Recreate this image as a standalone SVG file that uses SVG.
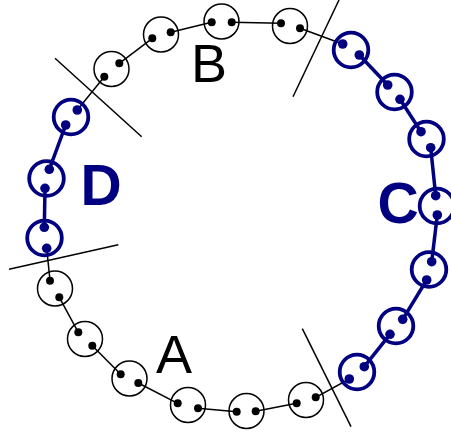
<svg xmlns="http://www.w3.org/2000/svg" width="451" height="436" viewBox="0 0 451 436">
<style>
.bk{fill:none;stroke:#000;stroke-width:1.5}
.bl{fill:none;stroke:#000080;stroke-width:3.8}
.dk{fill:#000}
.db{fill:#000080}
.cb{stroke:#000;stroke-width:1.5;fill:none}
.cl{stroke:#000080;stroke-width:3.5;fill:none}
.sep{stroke:#000;stroke-width:1.5}
.lab{font-family:"Liberation Sans",Arial,sans-serif;font-size:54px;fill:#000;text-anchor:middle}
.labb{font-family:"Liberation Sans",Arial,sans-serif;font-size:57px;font-weight:bold;fill:#000080;text-anchor:middle}
</style>
<rect width="451" height="436" fill="#fff"/>
<g id="connectors">
<line class="cb" x1="59.3" y1="297.3" x2="78.3" y2="332.3"/>
<line class="cb" x1="92.3" y1="345.7" x2="120.7" y2="374.3"/>
<line class="cb" x1="138.3" y1="383" x2="177.7" y2="403.3"/>
<line class="cb" x1="198" y1="408.3" x2="236.7" y2="411.7"/>
<line class="cb" x1="255.7" y1="411.3" x2="296.7" y2="403.3"/>
<line class="cb" x1="315.7" y1="397.3" x2="349.3" y2="379"/>
<line class="cl" x1="364.3" y1="366.7" x2="390" y2="334.3"/>
<line class="cl" x1="402.7" y1="319.3" x2="426.7" y2="280"/>
<line class="cl" x1="431.7" y1="261.7" x2="437.3" y2="215"/>
<line class="cl" x1="435.7" y1="195.7" x2="430.7" y2="147.7"/>
<line class="cl" x1="421" y1="131.7" x2="400" y2="99.3"/>
<line class="cl" x1="387.7" y1="85" x2="359.3" y2="55"/>
<line class="cb" x1="342.7" y1="44" x2="300" y2="28.3"/>
<line class="cb" x1="281" y1="23.3" x2="231.7" y2="22.3"/>
<line class="cb" x1="211.7" y1="22.3" x2="170.7" y2="32.3"/>
<line class="cb" x1="152.3" y1="38.3" x2="119.3" y2="63.3"/>
<line class="cb" x1="104.3" y1="76.7" x2="77.3" y2="110"/>
<line class="cl" x1="65.7" y1="125" x2="49.3" y2="169.3"/>
<line class="cl" x1="45" y1="188.3" x2="44.3" y2="227.3"/>
<line class="cb" x1="46.7" y1="248.3" x2="50" y2="280.7"/>
</g>
<g id="separators">
<line class="sep" x1="339" y1="0" x2="293" y2="96.7"/>
<line class="sep" x1="55" y1="58.3" x2="141.7" y2="136.7"/>
<line class="sep" x1="9" y1="269.3" x2="118.3" y2="244.7"/>
<line class="sep" x1="302.3" y1="328.7" x2="351" y2="426.7"/>
</g>
<g id="bead1"><circle class="bk" cx="55" cy="288.5" r="17.5"/><circle class="dk" cx="50" cy="280.7" r="4"/><circle class="dk" cx="59.3" cy="297.3" r="4"/></g>
<g id="bead2"><circle class="bk" cx="85" cy="339" r="17.5"/><circle class="dk" cx="78.3" cy="332.3" r="4"/><circle class="dk" cx="92.3" cy="345.7" r="4"/></g>
<g id="bead3"><circle class="bk" cx="129.5" cy="378.5" r="17.5"/><circle class="dk" cx="120.7" cy="374.3" r="4"/><circle class="dk" cx="138.3" cy="383" r="4"/></g>
<g id="bead4"><circle class="bk" cx="188" cy="405" r="17.5"/><circle class="dk" cx="177.7" cy="403.3" r="4"/><circle class="dk" cx="198" cy="408.3" r="4"/></g>
<g id="bead5"><circle class="bk" cx="246.5" cy="411" r="17.5"/><circle class="dk" cx="236.7" cy="411.7" r="4"/><circle class="dk" cx="255.7" cy="411.3" r="4"/></g>
<g id="bead6"><circle class="bk" cx="306" cy="400" r="17.5"/><circle class="dk" cx="296.7" cy="403.3" r="4"/><circle class="dk" cx="315.7" cy="397.3" r="4"/></g>
<g id="bead7"><circle class="bl" cx="357" cy="372" r="17.3"/><circle class="db" cx="349.3" cy="379" r="4.8"/><circle class="db" cx="364.3" cy="366.7" r="4.8"/></g>
<g id="bead8"><circle class="bl" cx="396" cy="326" r="17.3"/><circle class="db" cx="390" cy="334.3" r="4.8"/><circle class="db" cx="402.7" cy="319.3" r="4.8"/></g>
<g id="bead9"><circle class="bl" cx="429" cy="269.5" r="17.3"/><circle class="db" cx="426.7" cy="280" r="4.8"/><circle class="db" cx="431.7" cy="261.7" r="4.8"/></g>
<g id="bead10"><circle class="bl" cx="437" cy="206" r="17.3"/><circle class="db" cx="437.3" cy="215" r="4.8"/><circle class="db" cx="435.7" cy="195.7" r="4.8"/></g>
<g id="bead11"><circle class="bl" cx="426.5" cy="139" r="17.3"/><circle class="db" cx="430.7" cy="147.7" r="4.8"/><circle class="db" cx="421" cy="131.7" r="4.8"/></g>
<g id="bead12"><circle class="bl" cx="394.5" cy="92" r="17.3"/><circle class="db" cx="400" cy="99.3" r="4.8"/><circle class="db" cx="387.7" cy="85" r="4.8"/></g>
<g id="bead13"><circle class="bl" cx="351" cy="50" r="17.3"/><circle class="db" cx="359.3" cy="55" r="4.8"/><circle class="db" cx="342.7" cy="44" r="4.8"/></g>
<g id="bead14"><circle class="bk" cx="290" cy="26" r="17.5"/><circle class="dk" cx="300" cy="28.3" r="4"/><circle class="dk" cx="281" cy="23.3" r="4"/></g>
<g id="bead15"><circle class="bk" cx="221.5" cy="21.5" r="17.5"/><circle class="dk" cx="231.7" cy="22.3" r="4"/><circle class="dk" cx="211.7" cy="22.3" r="4"/></g>
<g id="bead16"><circle class="bk" cx="161" cy="34.5" r="17.5"/><circle class="dk" cx="170.7" cy="32.3" r="4"/><circle class="dk" cx="152.3" cy="38.3" r="4"/></g>
<g id="bead17"><circle class="bk" cx="111.5" cy="69" r="17.5"/><circle class="dk" cx="119.3" cy="63.3" r="4"/><circle class="dk" cx="104.3" cy="76.7" r="4"/></g>
<g id="bead18"><circle class="bl" cx="71" cy="117" r="17.3"/><circle class="db" cx="77.3" cy="110" r="4.8"/><circle class="db" cx="65.7" cy="125" r="4.8"/></g>
<g id="bead19"><circle class="bl" cx="46.5" cy="178.5" r="17.3"/><circle class="db" cx="49.3" cy="169.3" r="4.8"/><circle class="db" cx="45" cy="188.3" r="4.8"/></g>
<g id="bead20"><circle class="bl" cx="44.5" cy="238" r="17.3"/><circle class="db" cx="44.3" cy="227.3" r="4.8"/><circle class="db" cx="46.7" cy="248.3" r="4.8"/></g>
<g id="labels">
<text class="lab" x="174" y="373">A</text>
<text class="lab" x="209" y="82">B</text>
<text class="labb" x="398" y="223">C</text>
<text class="labb" x="101" y="205">D</text>
</g>
</svg>
